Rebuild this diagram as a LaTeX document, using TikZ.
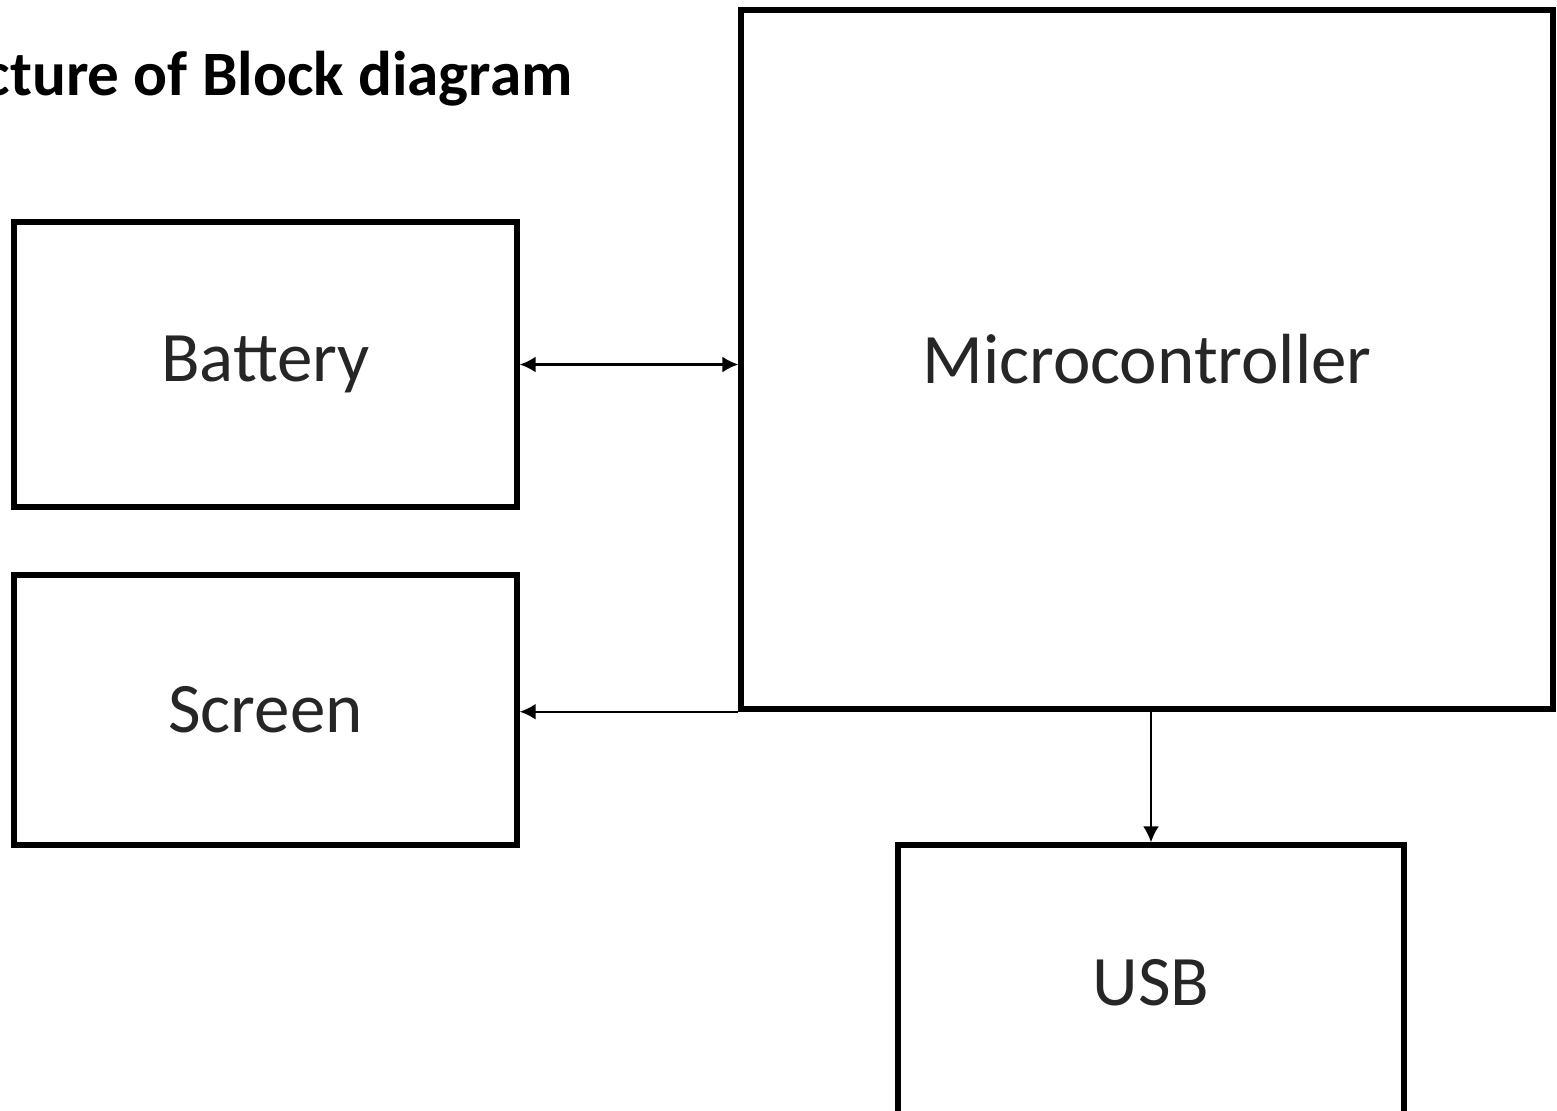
\documentclass[tikz,border=0pt]{standalone}
\usepackage{fontspec}
\setmainfont{Carlito}
\usetikzlibrary{arrows.meta}
\begin{document}
\begin{tikzpicture}[x=0.5pt,y=-0.5pt,
  blockbox/.style={draw=black, line width=2.7pt, fill=white, inner sep=0pt, font=\fontsize{35.5}{40}\selectfont, text=black!85},
  conn/.style={draw=black, line width=1.1pt},
  tip/.style={-{Latex[length=8pt,width=8pt]}},
  bothtips/.style={{Latex[length=8pt,width=8pt]}-{Latex[length=8pt,width=8pt]}}]
\useasboundingbox[fill=white] (0,0) rectangle (1557,1110);
\node[anchor=base east, inner sep=0pt, font=\bfseries\fontsize{31.6}{36}\selectfont] (title) at (573,95) {cture of Block diagram};
\node[blockbox, minimum width=503*0.5pt, minimum height=285*0.5pt] (bat) at (265.5,364.5) {Battery};
\node[blockbox, minimum width=503*0.5pt, minimum height=270*0.5pt] (scr) at (265.5,710) {Screen};
\node[blockbox, minimum width=812*0.5pt, minimum height=699*0.5pt] (mc) at (1147,359.5) {Microcontroller};
\node[blockbox, minimum width=506*0.5pt, minimum height=275*0.5pt] (usb) at (1151,982.5) {USB};
\draw[conn, bothtips] (bat.east) -- (bat.east -| mc.west);
\draw[conn, tip] (mc.south west) -- (mc.south west -| scr.east);
\draw[conn, tip] (usb.north |- mc.south) -- (usb.north);
\end{tikzpicture}
\end{document}
